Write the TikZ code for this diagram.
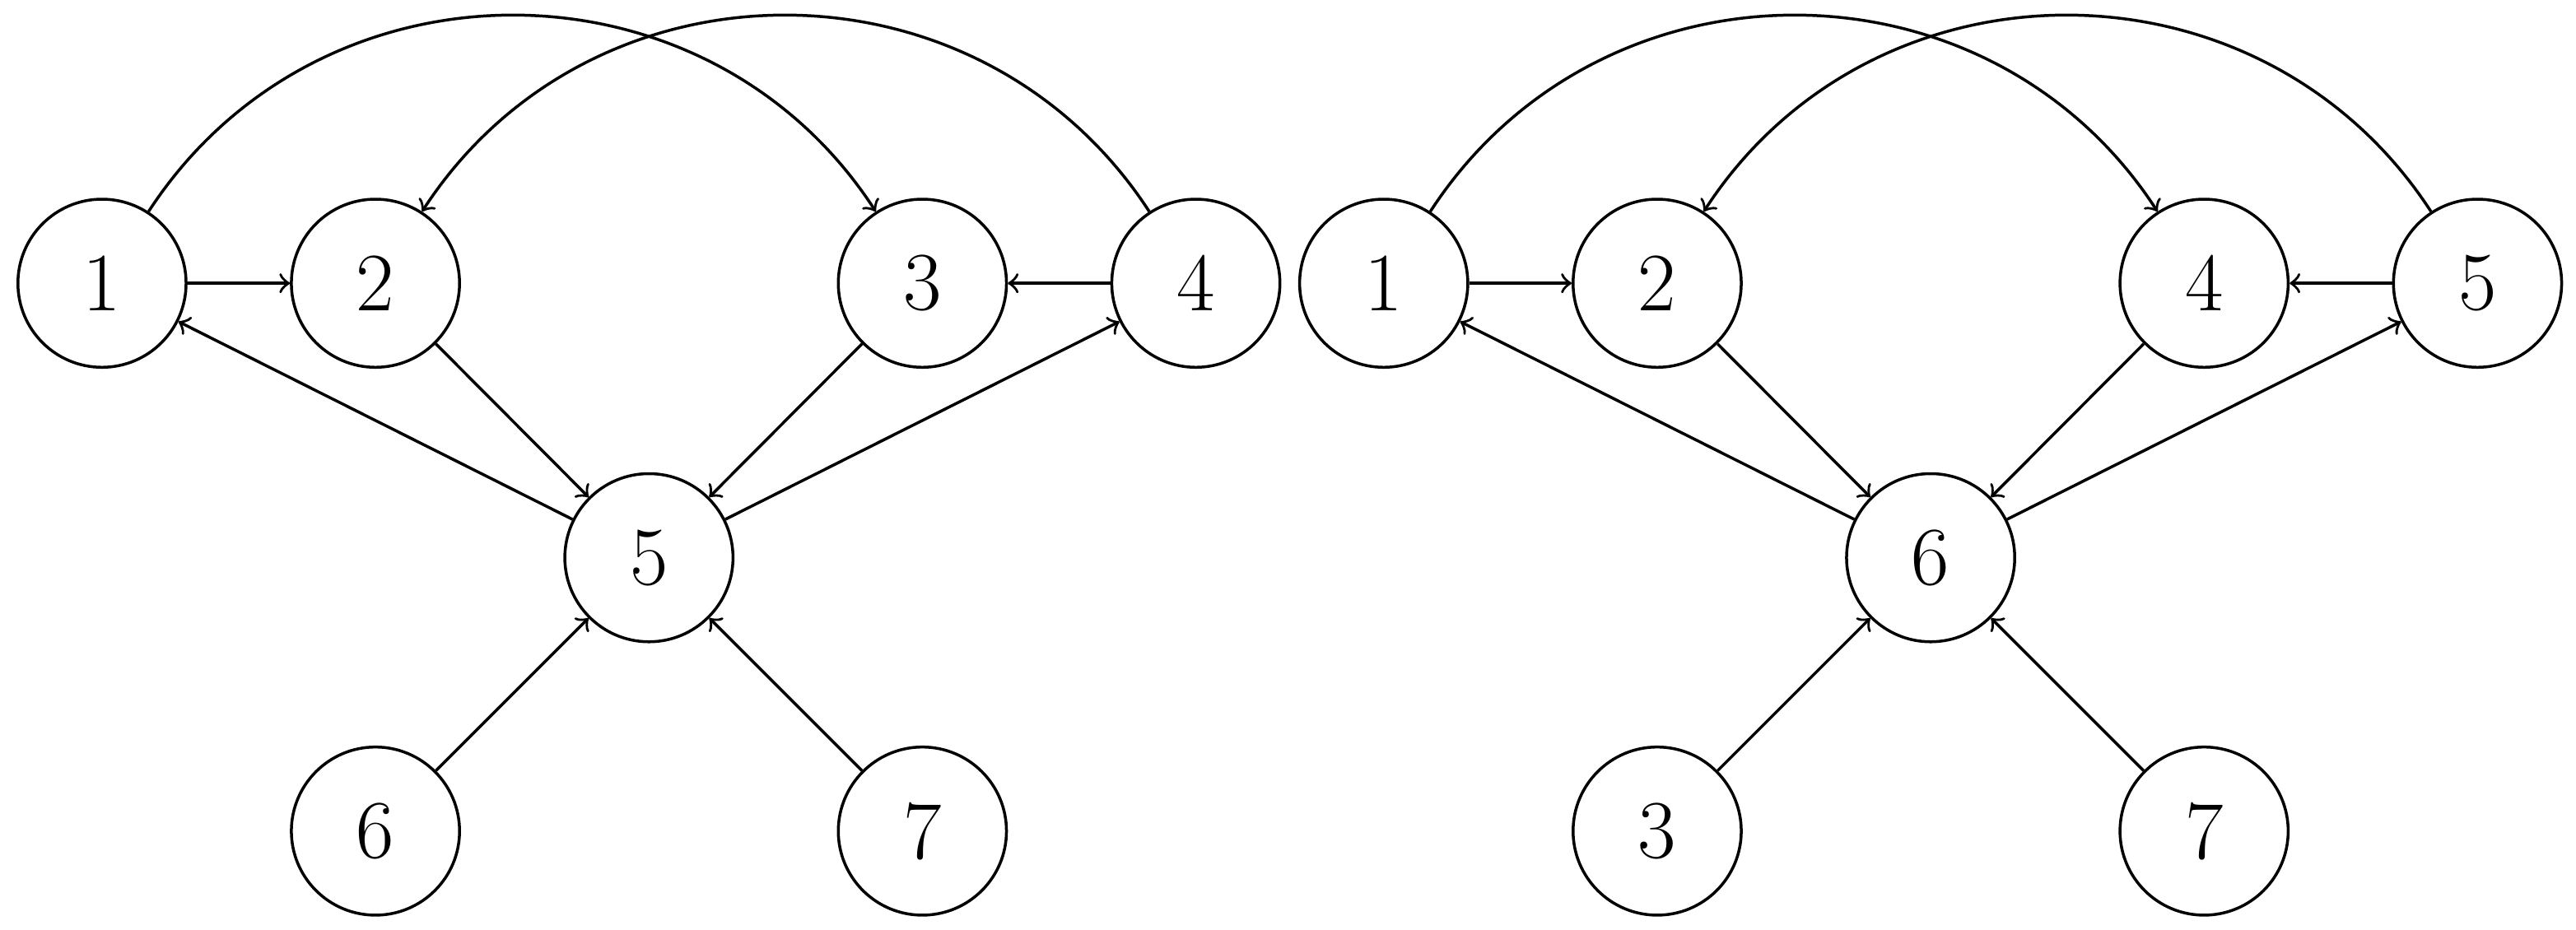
\documentclass[tikz,border=0pt]{standalone}
\begin{document}
\begin{tikzpicture}[x=2cm,y=2cm,
  vertex/.style={draw,circle,minimum size=1.23cm,inner sep=0pt,font=\LARGE},
  every path/.style={semithick}]
\useasboundingbox (0,0) rectangle (9.42,-3.40);

% left graph
\node[vertex] (a1) at (0.373,-1.036) {1};
\node[vertex] (a2) at (1.373,-1.036) {2};
\node[vertex] (a3) at (3.373,-1.036) {3};
\node[vertex] (a4) at (4.373,-1.036) {4};
\node[vertex] (a5) at (2.373,-2.04) {5};
\node[vertex] (a6) at (1.373,-3.04) {6};
\node[vertex] (a7) at (3.373,-3.04) {7};
\draw [->] (a1) -- (a2);
\draw [->] (a4) -- (a3);
\draw [->] (a2) -- (a5);
\draw [->] (a3) -- (a5);
\draw [->] (a5) -- (a1);
\draw [->] (a5) -- (a4);
\draw [->] (a6) -- (a5);
\draw [->] (a7) -- (a5);
\draw [->] (a1) to[out=57,in=123,looseness=1.1] (a3);
\draw [->] (a4) to[out=123,in=57,looseness=1.1] (a2);

% right graph
\node[vertex] (b1) at (5.06,-1.036) {1};
\node[vertex] (b2) at (6.06,-1.036) {2};
\node[vertex] (b4) at (8.06,-1.036) {4};
\node[vertex] (b5) at (9.06,-1.036) {5};
\node[vertex] (b6) at (7.06,-2.04) {6};
\node[vertex] (b3) at (6.06,-3.04) {3};
\node[vertex] (b7) at (8.06,-3.04) {7};
\draw [->] (b1) -- (b2);
\draw [->] (b5) -- (b4);
\draw [->] (b2) -- (b6);
\draw [->] (b4) -- (b6);
\draw [->] (b6) -- (b1);
\draw [->] (b6) -- (b5);
\draw [->] (b3) -- (b6);
\draw [->] (b7) -- (b6);
\draw [->] (b1) to[out=57,in=123,looseness=1.1] (b4);
\draw [->] (b5) to[out=123,in=57,looseness=1.1] (b2);
\end{tikzpicture}
\end{document}
